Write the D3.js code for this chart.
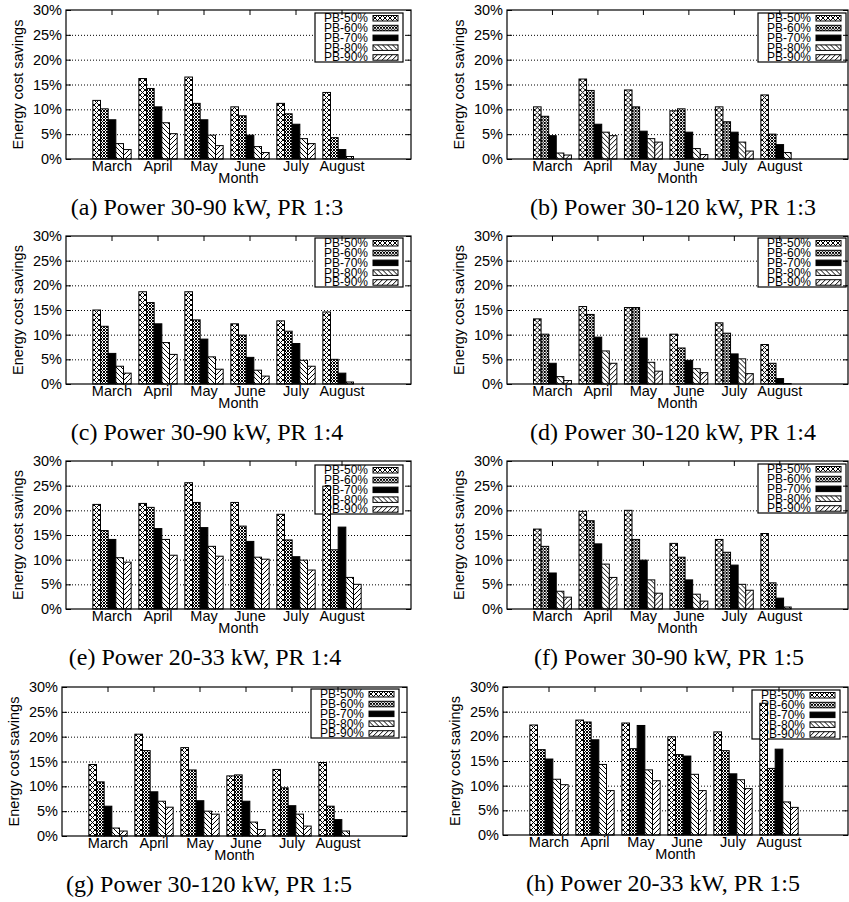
<!DOCTYPE html>
<html>
<head>
<meta charset="utf-8">
<script src="https://cdn.jsdelivr.net/npm/d3@7"></script>
<style>
  body { margin: 0; background: #fff; }
  svg text { font-family: "Liberation Sans", Arial, sans-serif; fill: #000; }
  svg text.caption { font-family: "Liberation Serif", "Times New Roman", serif; }
</style>
</head>
<body>
<svg id="fig"></svg>
<script>
const W = 849, H = 902;

// categories
const months = ["March", "April", "May", "June", "July", "August"];
const levels = ["PB-50%", "PB-60%", "PB-70%", "PB-80%", "PB-90%"];
const yTicks = [0, 5, 10, 15, 20, 25, 30];
const gridTicks = [5, 10, 15, 20, 25];

// energy cost savings in %, one row per month, one column per PB level
const savingsA = [[11.8, 10.1, 7.9, 3.1, 1.9], [16.2, 14.2, 10.5, 7.3, 5.1], [16.5, 11.2, 7.9, 4.8, 2.7],
                  [10.5, 8.7, 4.8, 2.5, 1.3], [11.2, 9.1, 7.0, 4.1, 3.1], [13.4, 4.3, 1.9, 0.5, 0]];
const savingsB = [[10.5, 8.6, 4.7, 1.2, 0.8], [16.1, 13.8, 7.0, 5.4, 4.7], [13.9, 10.5, 5.6, 4.1, 3.4],
                  [9.7, 10.1, 5.4, 2.1, 0.9], [10.5, 7.5, 5.4, 3.4, 1.6], [12.9, 5.0, 2.9, 1.3, 0]];
const savingsC = [[15.0, 11.7, 6.2, 3.6, 2.2], [18.7, 16.5, 12.2, 8.4, 6.0], [18.7, 13.0, 9.1, 5.5, 3.0],
                  [12.2, 9.9, 5.4, 2.8, 1.6], [12.8, 10.7, 8.2, 4.8, 3.6], [14.6, 5.0, 2.2, 0.4, 0]];
const savingsD = [[13.2, 10.1, 4.2, 1.5, 0.7], [15.7, 14.1, 9.5, 6.7, 4.2], [15.5, 15.5, 9.3, 4.4, 2.6],
                  [10.1, 7.3, 4.8, 3.1, 2.3], [12.4, 10.3, 6.1, 5.1, 2.1], [8.0, 4.2, 1.1, 0.1, 0]];
const savingsE = [[21.2, 15.9, 14.1, 10.4, 9.5], [21.4, 20.6, 16.3, 14.1, 10.9], [25.6, 21.6, 16.5, 12.7, 10.7],
                  [21.6, 16.8, 13.7, 10.5, 10.1], [19.2, 14.0, 10.6, 9.9, 7.9], [24.9, 12.0, 16.6, 6.4, 5.0]];
const savingsF = [[16.2, 12.7, 7.3, 3.6, 2.4], [19.8, 17.9, 13.2, 9.1, 6.4], [20.0, 14.1, 9.9, 5.9, 3.2],
                  [13.3, 10.5, 5.9, 3.0, 1.6], [14.1, 11.5, 8.9, 5.0, 3.8], [15.3, 5.3, 2.2, 0.4, 0]];
const savingsG = [[14.4, 10.9, 6.0, 1.6, 1.0], [20.5, 17.2, 8.9, 7.0, 5.8], [17.8, 13.3, 7.1, 5.0, 4.4],
                  [12.1, 12.3, 7.0, 2.8, 1.3], [13.4, 9.7, 6.1, 4.4, 2.0], [14.8, 6.0, 3.3, 1.0, 0]];
const savingsH = [[22.3, 17.3, 15.4, 11.3, 10.2], [23.3, 22.9, 19.3, 14.3, 9.0], [22.7, 17.5, 22.2, 13.2, 11.0],
                  [19.9, 16.3, 16.0, 12.3, 9.0], [20.9, 17.1, 12.4, 11.2, 9.4], [26.7, 13.5, 17.4, 6.7, 5.6]];

const captions = ["(a) Power 30-90 kW, PR 1:3", "(b) Power 30-120 kW, PR 1:3",
                  "(c) Power 30-90 kW, PR 1:4", "(d) Power 30-120 kW, PR 1:4",
                  "(e) Power 20-33 kW, PR 1:4", "(f) Power 30-90 kW, PR 1:5",
                  "(g) Power 30-120 kW, PR 1:5", "(h) Power 20-33 kW, PR 1:5"];

// panel frames (pixels), legend box corner, caption centre
const panels = [
  { data: savingsA, left: 66,  right: 411, top: 10,  bottom: 159, legX: 315, legY: 13,  capX: 207 },
  { data: savingsB, left: 507, right: 848, top: 10,  bottom: 159, legX: 758, legY: 13,  capX: 673 },
  { data: savingsC, left: 66,  right: 411, top: 236, bottom: 384, legX: 315, legY: 238, capX: 207 },
  { data: savingsD, left: 507, right: 848, top: 236, bottom: 384, legX: 758, legY: 238, capX: 673 },
  { data: savingsE, left: 66,  right: 411, top: 461, bottom: 609, legX: 315, legY: 465, capX: 205 },
  { data: savingsF, left: 507, right: 848, top: 461, bottom: 609, legX: 758, legY: 464, capX: 669 },
  { data: savingsG, left: 62,  right: 407, top: 687, bottom: 836, legX: 311, legY: 689, capX: 209 },
  { data: savingsH, left: 503, right: 848, top: 687, bottom: 835, legX: 752, legY: 690, capX: 663 }
];

const svg = d3.select("#fig").attr("width", W).attr("height", H);
const defs = svg.append("defs");

// gnuplot-like fill patterns
function hatch(id, size, bg, d, sw) {
  const p = defs.append("pattern").attr("id", id)
    .attr("patternUnits", "userSpaceOnUse")
    .attr("width", size).attr("height", size);
  p.append("rect").attr("width", size).attr("height", size).attr("fill", bg);
  if (d) p.append("path").attr("d", d).attr("fill", "none")
    .attr("stroke", "#000").attr("stroke-width", sw)
    .attr("shape-rendering", "crispEdges");
}
hatch("p50", 5, "#fff", "M0,0L5,5M5,0L0,5", 1);
hatch("p60", 3, "#fff", "M0,0L3,3M3,0L0,3", 1.2);
hatch("p70", 4, "#000", null);
hatch("p80", 5, "#fff", "M0,0L5,5M-1,4L1,6M4,-1L6,1", 1);
hatch("p90", 5, "#fff", "M5,0L0,5M-1,1L1,-1M4,6L6,4", 1);
const fills = ["url(#p50)", "url(#p60)", "url(#p70)", "url(#p80)", "url(#p90)"];

panels.forEach((p, k) => {
  const g = svg.append("g");
  const unit = (p.right - p.left) / 7.5;   // xrange [-1, 6.5]

  const x = d3.scaleBand().domain(months)
    .range([p.left + 0.5 * unit, p.left + 6.5 * unit]);
  const xi = d3.scaleBand().domain(levels)
    .range([0, x.bandwidth()]).paddingOuter(0.5);
  const y = d3.scaleLinear().domain([0, 30]).range([p.bottom, p.top]);

  // dotted grid
  g.append("g")
    .attr("transform", `translate(${p.left},0)`)
    .call(d3.axisLeft(y).tickValues(gridTicks).tickSize(-(p.right - p.left)).tickFormat(""))
    .call(s => s.select(".domain").remove())
    .selectAll("line")
    .attr("stroke", "#666").attr("stroke-dasharray", "1,2");

  // legend (bars may run over it, as in the original)
  const leg = g.append("g");
  leg.append("rect")
    .attr("x", p.legX).attr("y", p.legY).attr("width", 88).attr("height", 49)
    .attr("fill", "#fff").attr("stroke", "#000").attr("stroke-width", 1.2);
  const rows = leg.selectAll("g.row").data(levels).join("g").attr("class", "row")
    .attr("transform", (d, i) => `translate(${p.legX},${p.legY + 5 + 9.8 * i})`);
  rows.append("text")
    .attr("x", 53).attr("y", 4.2)
    .attr("text-anchor", "end").attr("font-size", 12)
    .text(d => d);
  rows.append("rect")
    .attr("x", 58).attr("y", -2.5).attr("width", 25).attr("height", 5.5)
    .attr("fill", (d, i) => fills[i]).attr("stroke", "#000").attr("stroke-width", 1);

  // bars
  g.append("g").selectAll("g").data(p.data).join("g")
    .attr("transform", (d, i) => `translate(${x(months[i])},0)`)
    .selectAll("rect")
    .data(d => d.map((v, j) => ({ v, level: levels[j], j })))
    .join("rect")
    .attr("x", d => xi(d.level))
    .attr("width", xi.bandwidth())
    .attr("y", d => y(d.v))
    .attr("height", d => y(0) - y(d.v))
    .attr("fill", d => fills[d.j])
    .attr("stroke", "#000").attr("stroke-width", 1);

  // axes, ticks pointing inward
  const yAxis = g.append("g")
    .attr("transform", `translate(${p.left},0)`)
    .call(d3.axisLeft(y).tickValues(yTicks).tickFormat(d => d + "%")
      .tickSizeInner(-5).tickSizeOuter(0).tickPadding(4));
  g.append("g")
    .attr("transform", `translate(${p.right},0)`)
    .call(d3.axisRight(y).tickValues(yTicks).tickFormat("").tickSizeInner(-5).tickSizeOuter(0));
  const xAxis = g.append("g")
    .attr("transform", `translate(0,${p.bottom})`)
    .call(d3.axisBottom(x).tickSizeInner(-5).tickSizeOuter(0).tickPadding(2));
  g.append("g")
    .attr("transform", `translate(0,${p.top})`)
    .call(d3.axisTop(x).tickFormat("").tickSizeInner(-5).tickSizeOuter(0));

  g.selectAll(".domain").remove();
  g.selectAll(".tick line").attr("stroke", "#000");
  yAxis.selectAll("text").attr("font-size", 14.5).attr("font-family", null);
  xAxis.selectAll("text").attr("font-size", 14.5).attr("font-family", null);

  // frame
  g.append("rect")
    .attr("x", p.left).attr("y", p.top)
    .attr("width", p.right - p.left).attr("height", p.bottom - p.top)
    .attr("fill", "none").attr("stroke", "#000").attr("stroke-width", 1.2);

  // axis titles
  g.append("text")
    .attr("x", (p.left + p.right) / 2).attr("y", p.bottom + 24)
    .attr("text-anchor", "middle").attr("font-size", 14.5)
    .text("Month");
  g.append("text")
    .attr("transform", `translate(${p.left - 43},${(p.top + p.bottom) / 2}) rotate(-90)`)
    .attr("text-anchor", "middle").attr("font-size", 14.5)
    .text("Energy cost savings");

  // sub-caption
  g.append("text").attr("class", "caption")
    .attr("x", p.capX).attr("y", p.bottom + 56)
    .attr("text-anchor", "middle").attr("font-size", 24)
    .text(captions[k]);
});
</script>
</body>
</html>
